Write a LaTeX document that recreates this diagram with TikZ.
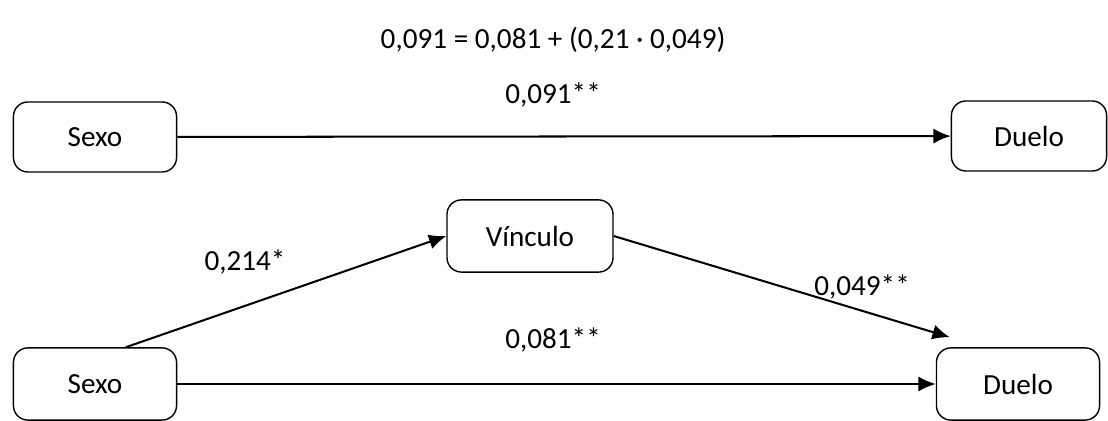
\documentclass[tikz,border=0pt]{standalone}
\usepackage{fontspec}
\setmainfont{Carlito}
\usetikzlibrary{arrows.meta,calc}

\begin{document}
\begin{tikzpicture}[->,>={Latex[length=2.4mm,width=2.1mm]},x=0.01385cm,y=0.01385cm,
                    line width=0.8pt,font=\fontsize{11.5}{13}\selectfont]
  \tikzstyle{box}=[draw=black,fill=white,line width=0.55pt,rounded corners=2mm,
                   minimum width=2.26cm,minimum height=0.97cm,inner sep=0pt]
  \useasboundingbox (0,0) rectangle (1108,421);

  \node             (eq)      at (553,381)  {0,091 = 0,081 + (0,21 · 0,049)};

  \node[box]        (sexoA)   at (95,284)   {Sexo};
  \node[box,minimum width=2.15cm] (dueloA) at (1029,285) {Duelo};
  \node             (cA)      at (553,326)  {0,091**};

  \node[box,minimum width=2.3cm,minimum height=1cm] (vinculo) at (530,185) {Vínculo};
  \node[box,minimum height=1cm] (sexoB)   at (95,37)    {Sexo};
  \node[box,minimum height=1cm] (dueloB)  at (1018,37)  {Duelo};
  \node             (a)       at (245,159)  {0,214*};
  \node             (b)       at (862,134)  {0,049**};
  \node             (cB)      at (553,81)   {0,081**};

  \draw (sexoA) -- (dueloA);
  \draw (sexoB.50) -- (vinculo.west);
  \draw (vinculo.east) -- ($(dueloB.north west)+(14,10)$);
  \draw (sexoB) -- (dueloB);
\end{tikzpicture}
\end{document}
